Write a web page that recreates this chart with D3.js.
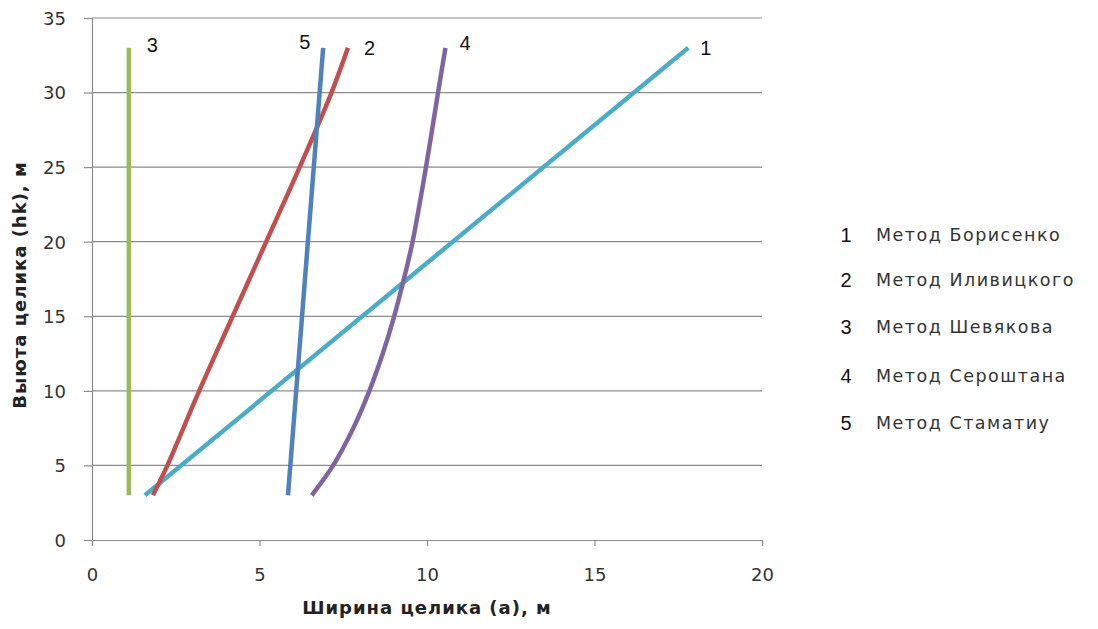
<!DOCTYPE html>
<html><head><meta charset="utf-8">
<script src="https://d3js.org/d3.v7.min.js"></script>
<style>body{margin:0;background:#fff;}</style>
</head><body>
<svg id="c" width="1098" height="629"></svg>
<script>
const xTicks = [0, 5, 10, 15, 20];
const yTicks = [0, 5, 10, 15, 20, 25, 30, 35];
const seriesNames = ["Метод Борисенко", "Метод Иливицкого", "Метод Шевякова", "Метод Сероштана", "Метод Стаматиу"];
const seriesIds = ["1", "2", "3", "4", "5"];
const seriesColors = ["#4bacc6", "#c0504d", "#9bbb59", "#8064a2", "#4f81bd"];
// values: [width a (m), height hk (m)]
const s1 = [[1.58, 3], [17.8, 33]];
const s2 = [[1.82, 3], [2.25, 5], [3.2, 10], [4.2, 15], [5.2, 20], [6.2, 25], [7.15, 30], [7.64, 33]];
const s3 = [[1.1, 3], [1.1, 33]];
const s4 = [[6.56, 3], [7.2, 5], [7.8, 7.5], [8.28, 10], [8.68, 12.5], [9.02, 15], [9.31, 17.5], [9.57, 20], [9.97, 25], [10.33, 30], [10.55, 33]];
const s5 = [[5.85, 3], [6.9, 33]];
const allSeries = [s1, s2, s3, s4, s5];

const svg = d3.select("#c");
const x = d3.scaleLinear().domain([0, 20]).range([92, 762]);
const y = d3.scaleLinear().domain([0, 35]).range([540, 18]);

// gridlines
svg.append("g").selectAll("line").data(yTicks.filter(d => d > 0)).join("line")
  .attr("x1", x(0)).attr("x2", x(20)).attr("y1", d => y(d)).attr("y2", d => y(d))
  .attr("stroke", "#8c8c8c").attr("stroke-width", 1.2);

// axes
const xAxis = svg.append("g").attr("transform", `translate(0,${y(0)})`)
  .call(d3.axisBottom(x).tickValues(xTicks).tickSize(6).tickPadding(22));
const yAxis = svg.append("g").attr("transform", `translate(${x(0)},0)`)
  .call(d3.axisLeft(y).tickValues(yTicks).tickSize(8).tickPadding(18));
[xAxis, yAxis].forEach(g => {
  g.select(".domain").attr("stroke", "#8c8c8c").attr("stroke-width", 1.2);
  g.selectAll(".tick line").attr("stroke", "#8c8c8c").attr("stroke-width", 1.2);
  g.selectAll("text").attr("font-family", "DejaVu Sans").attr("font-size", 18).attr("fill", "#333");
});
yAxis.selectAll("text").attr("dy", "0.35em");

// lines
const line = d3.line().x(d => x(d[0])).y(d => y(d[1])).curve(d3.curveCatmullRom.alpha(0.5));
svg.append("g").selectAll("path").data(allSeries).join("path")
  .attr("d", d => line(d)).attr("fill", "none")
  .attr("stroke", (d, i) => seriesColors[i]).attr("stroke-width", 4.5).attr("stroke-linecap", "butt");

// end labels
const labelOffsets = [[12, 0], [16, 0], [18, -3], [14, -5], [-24, -6]];
svg.append("g").selectAll("text").data(allSeries).join("text")
  .attr("x", (d, i) => x(d[d.length - 1][0]) + labelOffsets[i][0])
  .attr("y", (d, i) => y(d[d.length - 1][1]) + labelOffsets[i][1])
  .attr("dy", "0.35em")
  .attr("font-family", "Liberation Sans").attr("font-size", 20).attr("fill", "#111")
  .text((d, i) => seriesIds[i]);

// axis titles
svg.append("text").attr("x", 427).attr("y", 614).attr("text-anchor", "middle")
  .attr("font-family", "DejaVu Sans").attr("font-weight", "bold").attr("font-size", 18).attr("letter-spacing", 1)
  .attr("fill", "#222").text("Ширина целика (а), м");
svg.append("text").attr("transform", "translate(26,285) rotate(-90)").attr("text-anchor", "middle")
  .attr("font-family", "DejaVu Sans").attr("font-weight", "bold").attr("font-size", 18).attr("letter-spacing", 1)
  .attr("fill", "#222").text("Выюта целика (hk), м");

// legend
const legendY = [235, 280, 327, 376, 423];
const lg = svg.append("g");
lg.selectAll("text.num").data(seriesIds).join("text").attr("class", "num")
  .attr("x", 846).attr("y", (d, i) => legendY[i]).attr("dy", "0.35em").attr("text-anchor", "middle")
  .attr("font-family", "Liberation Sans").attr("font-size", 20).attr("fill", "#111").text(d => d);
lg.selectAll("text.name").data(seriesNames).join("text").attr("class", "name")
  .attr("x", 876).attr("y", (d, i) => legendY[i]).attr("dy", "0.35em")
  .attr("font-family", "DejaVu Sans").attr("font-size", 17.5).attr("letter-spacing", 1.5).attr("fill", "#333").text(d => d);
</script>
</body></html>
